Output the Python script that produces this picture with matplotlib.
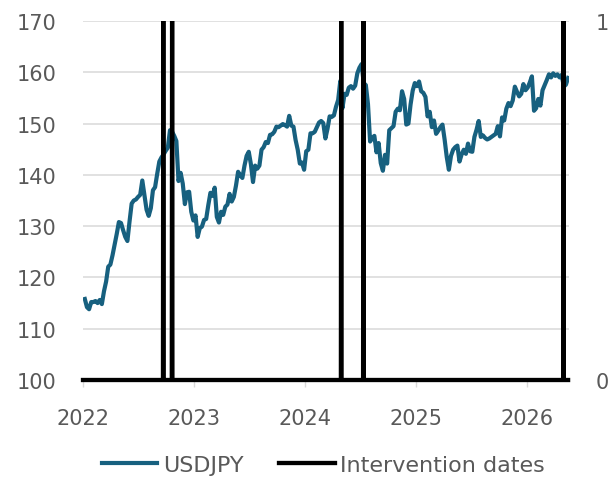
import pandas as pd
import matplotlib
matplotlib.use("Agg")
import matplotlib.pyplot as plt
import matplotlib.dates as mdates
from matplotlib.transforms import Bbox, TransformedBbox

plt.rcParams["font.family"] = ["DejaVu Sans"]

# ── Data: weekly USDJPY closes (Fridays) ───────────────────────
usdjpy_2022 = [115.8, 114.2, 113.8, 115.2, 115.2, 115.4, 115.0, 115.6,
               114.8, 117.3, 119.2, 122.1, 122.5, 124.3, 126.4, 128.5,
               130.8, 130.6, 129.2, 127.9, 127.1, 130.9, 134.4, 135.0,
               135.2, 135.7, 136.1, 138.9, 136.1, 133.2, 132.0, 133.5,
               137.0, 137.6, 140.2, 142.6, 143.4, 144.0, 144.7, 145.3,
               148.7, 148.4, 147.6, 146.6, 138.8, 140.4, 138.3, 134.3,
               136.6, 136.7, 132.8, 131.1]
usdjpy_2023 = [132.1, 127.9, 129.6, 129.9, 131.2, 131.4, 134.1, 136.5,
               135.9, 137.5, 131.8, 130.7, 132.8, 132.2, 133.8, 134.2,
               136.3, 134.8, 135.7, 137.9, 140.6, 139.9, 139.4, 141.8,
               143.7, 144.5, 142.1, 138.6, 141.8, 141.2, 141.8, 144.9,
               145.4, 146.4, 146.2, 147.8, 147.9, 148.4, 149.4, 149.3,
               149.6, 149.9, 149.7, 149.4, 151.5, 149.6, 149.4, 146.8,
               144.9, 142.2, 142.4, 141.0]
usdjpy_2024 = [144.6, 144.9, 148.1, 148.1, 148.4, 149.3, 150.2, 150.5,
               150.1, 147.1, 149.0, 151.4, 151.3, 151.6, 153.3, 154.6,
               158.3, 153.0, 155.8, 155.6, 157.0, 157.3, 156.8, 157.4,
               159.8, 160.9, 161.6, 157.9, 157.5, 153.8, 146.5, 147.2,
               147.6, 144.4, 146.2, 142.3, 140.8, 143.9, 142.2, 148.7,
               149.1, 149.5, 152.3, 152.9, 152.6, 156.3, 154.8, 149.8,
               150.0, 153.7, 156.4, 157.9]
usdjpy_2025 = [157.3, 158.2, 156.3, 156.0, 155.2, 151.4, 152.3, 149.3,
               150.6, 148.0, 148.6, 149.3, 149.8, 146.9, 143.5, 141.0,
               143.7, 144.9, 145.4, 145.7, 142.6, 144.0, 144.9, 144.1,
               146.1, 144.6, 144.5, 147.4, 148.8, 150.5, 147.4, 147.7,
               147.2, 146.9, 147.1, 147.4, 147.7, 148.0, 149.5, 147.5,
               151.2, 150.6, 152.9, 154.0, 153.4, 154.5, 157.2, 156.2,
               155.3, 155.8, 157.7, 156.5]
usdjpy_2026 = [157.0, 158.0, 159.2, 152.5, 153.0, 154.8, 153.5, 156.5,
               157.5, 158.5, 159.6, 159.0, 159.8, 159.3, 159.6, 159.0,
               159.5, 157.2, 157.6, 158.9]

usdjpy = usdjpy_2022 + usdjpy_2023 + usdjpy_2024 + usdjpy_2025 + usdjpy_2026
dates = pd.date_range("2022-01-07", periods=len(usdjpy), freq="W-FRI")

intervention_dates = ["2022-09-22", "2022-10-21", "2024-04-29",
                      "2024-07-11", "2026-04-30"]

# daily 0/1 flag series for interventions
days = pd.date_range("2022-01-01", dates[-1], freq="D")
flag = days.isin(pd.to_datetime(intervention_dates)).astype(int)

BLUE = "#17607F"
GREY = "#595959"
GRID = "#D9D9D9"
FS = 15

# ── Plot ──────────────────────────────────────────────────────
fig = plt.figure(figsize=(6.16, 4.81), dpi=100)
ax = fig.add_axes([83 / 616, 1 - 381 / 481, (569 - 83) / 616, (381 - 22) / 481])

ax.plot(dates, usdjpy, color=BLUE, lw=3.0, solid_joinstyle="round",
        label="USDJPY", zorder=3)
ax.set_ylim(100, 170)
ax.set_yticks(range(100, 171, 10))
ax.set_xlim(pd.Timestamp("2022-01-01"), dates[-1] + pd.Timedelta(days=3))
ax.grid(axis="y", color=GRID, lw=1.1, zorder=0)
ax.set_axisbelow(True)

ax.xaxis.set_major_locator(mdates.YearLocator())
ax.xaxis.set_major_formatter(mdates.DateFormatter("%Y"))

ax2 = ax.twinx()
flag_line, = ax2.plot(days, flag, color="black", lw=3.1,
                      label="Intervention dates", zorder=4)
ax2.set_ylim(0, 1)
ax2.set_yticks([0, 1])
# keep the zero baseline fully visible, clip only at the top
flag_line.set_clip_box(TransformedBbox(Bbox([[-0.01, -0.05], [1.01, 1.0]]),
                                       ax2.transAxes))

for a in (ax, ax2):
    for s in a.spines.values():
        s.set_visible(False)

ax.tick_params(axis="y", length=0, pad=19, labelsize=FS, labelcolor=GREY)
ax2.tick_params(axis="y", length=0, pad=19, labelsize=FS, labelcolor=GREY)
ax.tick_params(axis="x", length=5, width=1.0, color=GRID, pad=15,
               labelsize=FS, labelcolor=GREY)

h1, l1 = ax.get_legend_handles_labels()
h2, l2 = ax2.get_legend_handles_labels()
fig.legend(h1 + h2, l1 + l2, loc="center", bbox_to_anchor=(0.525, 0.032),
           ncol=2, frameon=False, fontsize=16, labelcolor=GREY,
           handlelength=2.5, handletextpad=0.25, columnspacing=1.6,
           borderpad=0.1)

plt.savefig("out.png", dpi=100)
